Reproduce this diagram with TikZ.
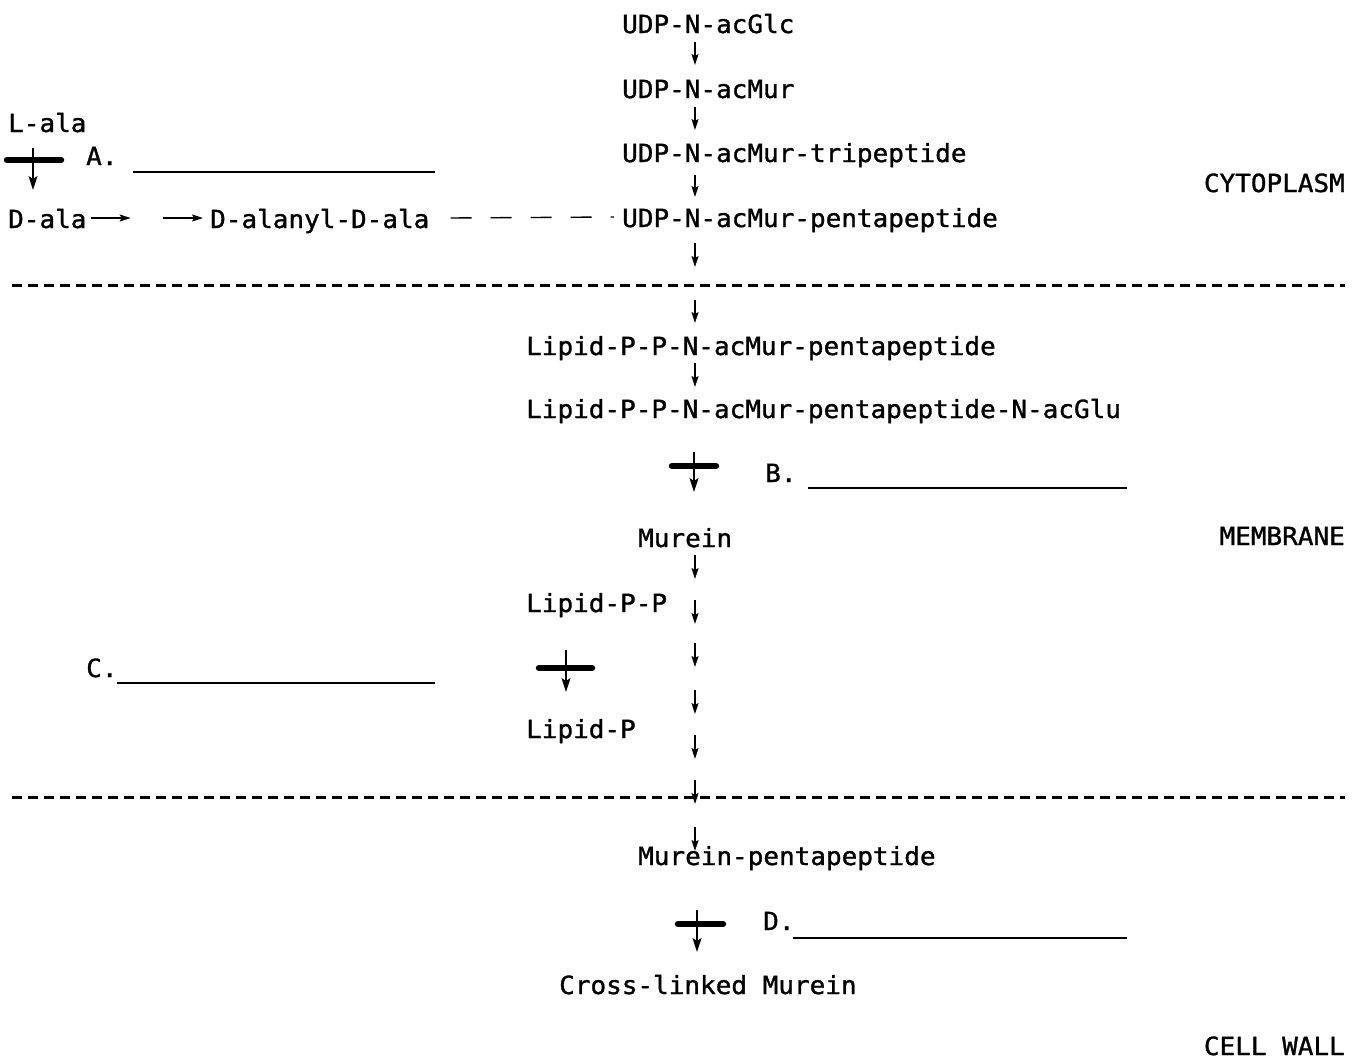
\documentclass[tikz,border=0pt]{standalone}
\usepackage{fontspec}
\newfontfamily\typefont[FakeStretch=1.04,FakeBold=1.2]{DejaVu Sans Mono}
\usetikzlibrary{calc,arrows.meta}
\tikzset{
  txt/.style={anchor=base west, inner sep=0pt, font=\typefont\fontsize{25}{30}\selectfont},
  flow/.style={-{Stealth[length=11pt,width=7pt,inset=2pt]}, line width=1.3pt},
  inhib/.style={-{Stealth[length=14pt,width=9pt,inset=3pt]}, line width=1.6pt},
  blockbar/.style={line width=6.5pt, line cap=round},
  blank/.style={line width=1.8pt},
  link/.style={line width=1.4pt, dash pattern=on 21pt off 19pt},
  zone/.style={line width=3pt, dash pattern=on 10pt off 6pt},
}

\begin{document}
\begin{tikzpicture}[x=1pt,y=-1pt]
      \useasboundingbox (0,0) rectangle (1361,1060);
      \coordinate (col) at (695,0);

      % CYTOPLASME
      \node[txt] (glc) at (622,33) {UDP-N-acGlc};
      \node[txt] (mur) at (622,98) {UDP-N-acMur};
      \node[txt] (tri) at (622,162) {UDP-N-acMur-tripeptide};
      \node[txt] (penta) at (622,227) {UDP-N-acMur-pentapeptide};
      \node[txt] (lala) at (8,132) {L-ala};
      \node[txt] (dala) at (8,228) {D-ala};
      \node[txt] (dd) at (210,228) {D-alanyl-D-ala};

      \draw[flow] ($(glc.base -| col)+(0,9)$) -- +(0,23);
      \draw[flow] ($(mur.base -| col)+(0,9)$) -- +(0,23);
      \draw[flow] ($(tri.base -| col)+(0,13)$) -- +(0,22);
      \draw[flow] ($(penta.base -| col)+(0,16)$) -- +(0,24);

      \draw[flow] ($(dala.base east)+(4,-10)$) -- +(40,0);
      \draw[flow] ($(dd.base west)+(-47,-10)$) -- +(40,0);
      \draw[link] ($(dd.base east)+(21,-10)$) -- ($(penta.base west)+(-8,-10)$);

      % BLOCAGE A
      \coordinate (A) at (33,160);
      \draw[blockbar] ($(A)+(-26,0)$) -- ($(A)+(28,0)$);
      \draw[inhib] ($(A)+(0,-12)$) -- ($(A)+(0,30)$);
      \node[txt] (labA) at (86,165) {A.};
      \draw[blank] (133,172) -- (435,172);

      % LIMITES
      \draw[zone] (12,285) -- (1345,285);
      \draw[zone] (12,797) -- (1345,797);
      \node[txt, anchor=base east] (cyto) at (1345,192) {CYTOPLASM};
      \node[txt, anchor=base east] (memb) at (1345,545) {MEMBRANE};
      \node[txt, anchor=base east] (wall) at (1345,1055) {CELL WALL};

      % MEMBRANE
      \node[txt] (lip1) at (526,355) {Lipid-P-P-N-acMur-pentapeptide};
      \node[txt] (lip2) at (526,418) {Lipid-P-P-N-acMur-pentapeptide-N-acGlu};
      \draw[flow] ($(lip1.base -| col)+(0,-55)$) -- +(0,23);
      \draw[flow] ($(lip1.base -| col)+(0,8)$) -- +(0,24);

      % BLOCAGE B
      \coordinate (B) at (694,466);
      \draw[blockbar] ($(B)+(-22,0)$) -- ($(B)+(22,0)$);
      \draw[inhib] ($(B)+(0,-14)$) -- ($(B)+(0,26)$);
      \node[txt] (labB) at (765,482) {B.};
      \draw[blank] (808,488) -- (1127,488);

      \node[txt] (murein) at (638,547) {Murein};
      \foreach \ya in {555,600,643,690,735,780,827}
        \draw[flow] (col |- 0,\ya) -- +(0,24);
      \node[txt] (lpp) at (526,612) {Lipid-P-P};
      \node[txt] (lp) at (526,738) {Lipid-P};

      % BLOCAGE C
      \coordinate (C) at (566,668);
      \draw[blockbar] ($(C)+(-27,0)$) -- ($(C)+(26,0)$);
      \draw[inhib] ($(C)+(0,-18)$) -- ($(C)+(0,24)$);
      \node[txt] (labC) at (86,677) {C.};
      \draw[blank] (117,683) -- (435,683);

      % PAROI
      \node[txt] (mpenta) at (638,865) {Murein-pentapeptide};
      \node[txt] (cross) at (559,994) {Cross-linked Murein};

      % BLOCAGE D
      \coordinate (D) at (697,924);
      \draw[blockbar] ($(D)+(-19,0)$) -- ($(D)+(26,0)$);
      \draw[inhib] ($(D)+(0,-14)$) -- ($(D)+(0,28)$);
      \node[txt] (labD) at (763,930) {D.};
      \draw[blank] (793,938) -- (1127,938);
\end{tikzpicture}
\end{document}
